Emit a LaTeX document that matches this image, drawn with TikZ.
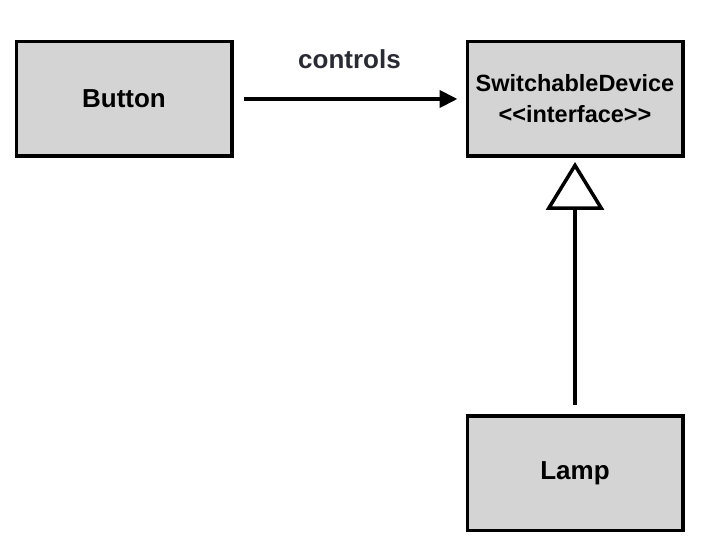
\documentclass[tikz,border=0pt]{standalone}
\usepackage{fontspec}
\setmainfont{Liberation Sans}
\usetikzlibrary{positioning, arrows.meta}
\usepackage{xcolor}
\definecolor{clsfill}{HTML}{D4D4D4}
\definecolor{lbltext}{HTML}{2A2A33}

\begin{document}
\begin{tikzpicture}[
          cls/.style={draw=black, fill=clsfill, line width=3.5pt, text=black, font=\fontsize{26pt}{31pt}\selectfont\bfseries, minimum width=215.5pt, minimum height=114.5pt, align=center, inner sep=0pt}]
        \useasboundingbox (0,0) rectangle (708pt,552pt);
        \fill[white] (0,0) rectangle (708pt,552pt);
        \node[cls] (btn) at (124pt,453pt) {Button};
        \node[cls, right=232pt of btn, font=\fontsize{23.5pt}{30pt}\selectfont\bfseries] (dev) {SwitchableDevice\\[1pt]<\kern0pt<interface>\kern0pt>};
        \node[cls, below=256pt of dev] (lamp) {Lamp};
        \draw[-{Triangle[length=18pt, width=17pt]}, line width=4pt, shorten <=10pt, shorten >=8pt] (btn) -- node[above=28pt, inner sep=0pt, text=lbltext, font=\fontsize{26pt}{31pt}\selectfont\bfseries] (ctl) {controls} (dev);
        \draw[-{Triangle[open, length=48pt, width=58pt]}, line width=3.5pt, shorten <=9pt, shorten >=4pt] (lamp) -- (dev);
      \end{tikzpicture}
\end{document}
